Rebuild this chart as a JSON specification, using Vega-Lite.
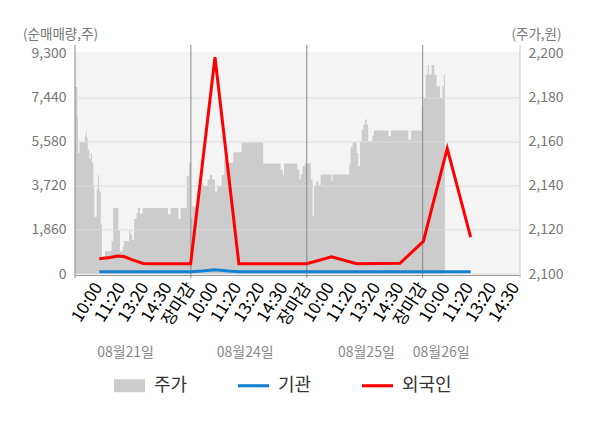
{
  "$schema": "https://vega.github.io/schema/vega-lite/v6.json",
  "width": 445,
  "height": 222,
  "autosize": {"type": "none"},
  "padding": {"left": 75, "top": 52, "right": 80, "bottom": 154},
  "background": "white",
  "config": {
    "font": "Noto Sans CJK KR",
    "view": {"fill": "#f4f4f4", "stroke": null}
  },
  "datasets": {
    "price": [
      {"t": 0, "price": 2185}, {"t": 0.10, "price": 2172}, {"t": 0.13, "price": 2155}, {"t": 0.19, "price": 2160},
      {"t": 0.43, "price": 2163}, {"t": 0.47, "price": 2165}, {"t": 0.50, "price": 2162}, {"t": 0.55, "price": 2156.5},
      {"t": 0.62, "price": 2152.5}, {"t": 0.68, "price": 2155}, {"t": 0.73, "price": 2150.5}, {"t": 0.79, "price": 2140},
      {"t": 0.83, "price": 2126}, {"t": 0.94, "price": 2138.5}, {"t": 0.99, "price": 2145}, {"t": 1.04, "price": 2137.5},
      {"t": 1.11, "price": 2122.5}, {"t": 1.16, "price": 2106}, {"t": 1.22, "price": 2108}, {"t": 1.29, "price": 2110.3},
      {"t": 1.58, "price": 2115}, {"t": 1.65, "price": 2130}, {"t": 1.87, "price": 2119.5}, {"t": 1.94, "price": 2110.3},
      {"t": 2.06, "price": 2112.6}, {"t": 2.11, "price": 2115}, {"t": 2.34, "price": 2119.7}, {"t": 2.40, "price": 2118},
      {"t": 2.46, "price": 2115.6}, {"t": 2.55, "price": 2125}, {"t": 2.66, "price": 2127.7}, {"t": 2.72, "price": 2130},
      {"t": 2.80, "price": 2127.4}, {"t": 2.92, "price": 2130}, {"t": 4.01, "price": 2127}, {"t": 4.12, "price": 2130},
      {"t": 4.46, "price": 2125}, {"t": 4.56, "price": 2130}, {"t": 4.82, "price": 2144.4}, {"t": 4.92, "price": 2150.5},
      {"t": 4.99, "price": 2125.5}, {"t": 5.06, "price": 2130.7}, {"t": 5.25, "price": 2137.5}, {"t": 5.35, "price": 2141.4},
      {"t": 5.53, "price": 2140}, {"t": 5.72, "price": 2143}, {"t": 5.82, "price": 2145}, {"t": 5.92, "price": 2143},
      {"t": 6.04, "price": 2137.5}, {"t": 6.14, "price": 2139.8}, {"t": 6.33, "price": 2145}, {"t": 6.44, "price": 2152},
      {"t": 6.54, "price": 2150.5}, {"t": 6.83, "price": 2155.3}, {"t": 7.19, "price": 2159.8}, {"t": 8.12, "price": 2150.2},
      {"t": 8.87, "price": 2147.4}, {"t": 8.96, "price": 2145.2}, {"t": 9.02, "price": 2150.2}, {"t": 9.59, "price": 2147.4},
      {"t": 9.68, "price": 2142.9}, {"t": 9.74, "price": 2145.2}, {"t": 9.82, "price": 2149}, {"t": 9.92, "price": 2150.2},
      {"t": 10.17, "price": 2142.9}, {"t": 10.25, "price": 2126.2}, {"t": 10.31, "price": 2139.8}, {"t": 10.40, "price": 2142},
      {"t": 10.50, "price": 2140.5}, {"t": 10.60, "price": 2145.2}, {"t": 11.07, "price": 2142.3}, {"t": 11.12, "price": 2145.2},
      {"t": 11.83, "price": 2149.7}, {"t": 11.89, "price": 2157.6}, {"t": 11.98, "price": 2159.8}, {"t": 12.15, "price": 2155},
      {"t": 12.22, "price": 2149}, {"t": 12.30, "price": 2160.3}, {"t": 12.37, "price": 2165.6}, {"t": 12.44, "price": 2167.9},
      {"t": 12.51, "price": 2170.2}, {"t": 12.58, "price": 2168}, {"t": 12.65, "price": 2160.3}, {"t": 12.83, "price": 2162.9},
      {"t": 12.90, "price": 2165.2}, {"t": 13.52, "price": 2162.6}, {"t": 13.63, "price": 2165.2}, {"t": 14.38, "price": 2161},
      {"t": 14.50, "price": 2165.2}, {"t": 14.96, "price": 2176}, {"t": 15.03, "price": 2180}, {"t": 15.13, "price": 2190.6},
      {"t": 15.22, "price": 2195}, {"t": 15.27, "price": 2190.6}, {"t": 15.39, "price": 2195}, {"t": 15.50, "price": 2190.6},
      {"t": 15.60, "price": 2185.3}, {"t": 15.75, "price": 2180}, {"t": 15.85, "price": 2185.3}, {"t": 15.91, "price": 2190.6},
      {"t": 15.96, "price": 2190.6}
    ],
    "flows": [
      {"t": 1.05, "series": "외국인", "v": 647}, {"t": 1.51, "series": "외국인", "v": 702},
      {"t": 1.83, "series": "외국인", "v": 761}, {"t": 2.11, "series": "외국인", "v": 740},
      {"t": 2.45, "series": "외국인", "v": 604}, {"t": 2.67, "series": "외국인", "v": 533},
      {"t": 2.95, "series": "외국인", "v": 448}, {"t": 3.24, "series": "외국인", "v": 435},
      {"t": 4.99, "series": "외국인", "v": 435}, {"t": 6.04, "series": "외국인", "v": 9170},
      {"t": 7.07, "series": "외국인", "v": 435}, {"t": 10.0, "series": "외국인", "v": 435},
      {"t": 11.07, "series": "외국인", "v": 730}, {"t": 12.15, "series": "외국인", "v": 435},
      {"t": 14.02, "series": "외국인", "v": 450}, {"t": 15.03, "series": "외국인", "v": 1380},
      {"t": 16.06, "series": "외국인", "v": 5310}, {"t": 17.07, "series": "외국인", "v": 1560},
      {"t": 1.05, "series": "기관", "v": 100}, {"t": 4.99, "series": "기관", "v": 100},
      {"t": 5.5, "series": "기관", "v": 130}, {"t": 6.04, "series": "기관", "v": 180},
      {"t": 6.6, "series": "기관", "v": 130}, {"t": 7.07, "series": "기관", "v": 100},
      {"t": 17.07, "series": "기관", "v": 100}
    ]
  },
  "layer": [
    {
      "data": {"name": "price"},
      "mark": {"type": "area", "interpolate": "step-after", "opacity": 1},
      "encoding": {
        "x": {
          "field": "t", "type": "quantitative",
          "scale": {"domain": [0, 19.2], "nice": false, "zero": false},
          "axis": {
            "orient": "bottom", "values": [1, 2, 3, 4, 5, 6, 7, 8, 9, 10, 11, 12, 13, 14, 15, 16, 17, 18, 19],
            "labelExpr": "datum.value % 5 == 0 ? '장마감' : ['', '10:00', '11:20', '13:20', '14:30'][datum.value % 5]",
            "labelAngle": -58, "labelFontSize": 17, "labelPadding": 9, "labelOverlap": false, "labelFlush": false,
            "ticks": false, "tickSize": 0, "grid": false, "domain": true, "domainColor": "#999999", "offset": 1,
            "title": null,
            "encode": {"labels": {"update": {"fill": {"signal": "datum.value % 5 == 0 ? '#ff0000' : (datum.value == 16 ? '#222222' : '#888888')"}}}}
          }
        },
        "y": {
          "field": "price", "type": "quantitative",
          "scale": {"domain": [2100, 2200.909], "nice": false, "zero": false},
          "axis": {
            "orient": "right", "values": [2100, 2120, 2140, 2160, 2180, 2200],
            "labelExpr": "format(datum.value, ',')",
            "grid": false, "domain": false, "ticks": false, "tickSize": 0, "labelPadding": 8,
            "labelFontSize": 14, "labelColor": "#777777",
            "title": "(주가,원)", "titleAngle": 0, "titleAlign": "center", "titleX": 16, "titleY": -14,
            "titleBaseline": "alphabetic", "titleFontSize": 13.5, "titleFontWeight": "normal", "titleColor": "#777777"
          }
        },
        "y2": {"datum": 2100},
        "color": {
          "datum": "주가", "type": "nominal",
          "scale": {"domain": ["주가", "기관", "외국인"], "range": ["#cccccc", "#1580d0", "#ff0000"]},
          "legend": {
            "orient": "none", "legendX": 39, "legendY": 318, "direction": "horizontal", "title": null,
            "symbolSize": 961, "labelFontSize": 18, "labelColor": "#333333", "labelOffset": 9,
            "columnPadding": 50, "padding": 0,
            "encode": {"symbols": {"update": {
              "shape": {"signal": "datum.value === '주가' ? 'M-1,-0.42H1V0.42H-1Z' : 'M-1,-0.1H1V0.1H-1Z'"},
              "fill": {"signal": "scale('color', datum.value)"},
              "stroke": {"value": "transparent"}, "strokeWidth": {"value": 0}, "opacity": {"value": 1}
            }}}
          }
        }
      }
    },
    {
      "data": {"values": [{"g": 0}, {"g": 1860}, {"g": 3720}, {"g": 5580}, {"g": 7440}]},
      "mark": {"type": "rule", "color": "#dcdcdc", "strokeWidth": 1},
      "encoding": {
        "y": {"field": "g", "type": "quantitative", "scale": {"domain": [0, 9384.5], "nice": false, "zero": false}, "axis": null}
      }
    },
    {
      "data": {"values": [{"t": 0}, {"t": 5}, {"t": 10}, {"t": 15}]},
      "mark": {"type": "rule", "color": "#888888", "strokeWidth": 1},
      "encoding": {
        "x": {"field": "t", "type": "quantitative", "scale": {"domain": [0, 19.2], "nice": false, "zero": false}, "axis": null},
        "y": {"datum": 9680, "type": "quantitative", "scale": {"domain": [0, 9384.5], "nice": false, "zero": false}, "axis": null},
        "y2": {"datum": -169}
      }
    },
    {
      "data": {"values": [{"t": 19.2}]},
      "mark": {"type": "rule", "color": "#cccccc", "strokeWidth": 1},
      "encoding": {
        "x": {"field": "t", "type": "quantitative", "scale": {"domain": [0, 19.2], "nice": false, "zero": false}, "axis": null},
        "y": {"datum": 9680, "type": "quantitative", "scale": {"domain": [0, 9384.5], "nice": false, "zero": false}, "axis": null},
        "y2": {"datum": -169}
      }
    },
    {
      "data": {"name": "flows"},
      "mark": {"type": "line", "strokeWidth": 3, "interpolate": "linear"},
      "encoding": {
        "x": {
          "field": "t", "type": "quantitative",
          "scale": {"domain": [0, 19.2], "nice": false, "zero": false},
          "axis": {
            "orient": "bottom", "values": [2.16, 7.32, 12.55, 15.78],
            "labelExpr": "datum.value < 5 ? '08월21일' : datum.value < 10 ? '08월24일' : datum.value < 15 ? '08월25일' : '08월26일'",
            "labelAngle": 0, "labelFontSize": 14, "labelColor": "#888888", "labelPadding": 0,
            "labelOverlap": false, "labelFlush": false, "offset": 71,
            "ticks": false, "tickSize": 0, "domain": false, "grid": false, "title": null
          }
        },
        "y": {
          "field": "v", "type": "quantitative",
          "scale": {"domain": [0, 9384.5], "nice": false, "zero": false},
          "axis": {
            "orient": "left", "values": [0, 1860, 3720, 5580, 7440, 9300],
            "labelExpr": "format(datum.value, ',')",
            "grid": false, "domain": false, "ticks": false, "tickSize": 0, "labelPadding": 9,
            "labelFontSize": 14, "labelColor": "#777777",
            "title": "(순매매량,주)", "titleAngle": 0, "titleAlign": "center", "titleX": -15, "titleY": -14,
            "titleBaseline": "alphabetic", "titleFontSize": 13.5, "titleFontWeight": "normal", "titleColor": "#777777"
          }
        },
        "color": {
          "field": "series", "type": "nominal",
          "scale": {"domain": ["주가", "기관", "외국인"], "range": ["#cccccc", "#1580d0", "#ff0000"]},
          "legend": {
            "orient": "none", "legendX": 39, "legendY": 318, "direction": "horizontal", "title": null,
            "symbolSize": 961, "labelFontSize": 18, "labelColor": "#333333", "labelOffset": 9,
            "columnPadding": 50, "padding": 0,
            "encode": {"symbols": {"update": {
              "shape": {"signal": "datum.value === '주가' ? 'M-1,-0.42H1V0.42H-1Z' : 'M-1,-0.1H1V0.1H-1Z'"},
              "fill": {"signal": "scale('color', datum.value)"},
              "stroke": {"value": "transparent"}, "strokeWidth": {"value": 0}, "opacity": {"value": 1}
            }}}
          }
        }
      }
    }
  ],
  "resolve": {"scale": {"y": "independent"}, "axis": {"x": "independent"}}
}
